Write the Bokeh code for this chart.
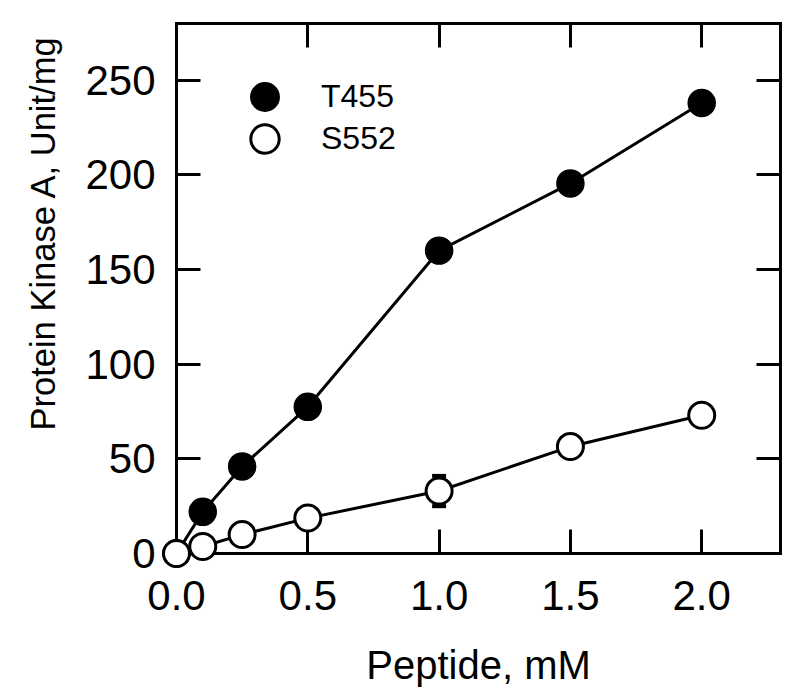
import math
from bokeh.plotting import figure
from bokeh.models import (Range1d, LinearAxis, FixedTicker, ColumnDataSource, Whisker,
                          TeeHead, Legend, LegendItem)
from bokeh.embed import file_html
from bokeh.resources import INLINE

# ---- data ----
peptide_mM = [0.0, 0.1, 0.25, 0.5, 1.0, 1.5, 2.0]
t455 = [0.0, 22, 46, 77.5, 160, 195.5, 238]
s552 = [0.0, 3.7, 10, 18.7, 33, 56.5, 73]
t455_err = [0, 0, 0, 0, 0, 0, 0]
s552_err = [0, 0, 0, 0, 8, 0, 0]
series_names = ["T455", "S552"]
x_ticks = [0.0, 0.5, 1.0, 1.5, 2.0]
x_tick_labels = ["0.0", "0.5", "1.0", "1.5", "2.0"]
y_ticks = [0, 50, 100, 150, 200, 250]
y_tick_labels = ["0", "50", "100", "150", "200", "250"]
x_title = "Peptide, mM"
y_title = "Protein Kinase A, Unit/mg"

FONT = "Liberation Sans"

p = figure(frame_width=604, frame_height=530,
           min_border_left=176, min_border_right=12, min_border_top=23, min_border_bottom=135,
           x_range=Range1d(0, 2.3), y_range=Range1d(0, 280),
           output_backend="svg", toolbar_location=None,
           x_axis_location=None, y_axis_location=None,
           title=y_title, title_location="left")
p.xgrid.visible = False
p.ygrid.visible = False
p.outline_line_color = None
p.background_fill_color = "white"
p.border_fill_color = "white"

# y-axis title (as a left title so it can sit above the frame centre like the reference)
p.title.text_font = FONT
p.title.text_font_size = "34.5px"
p.title.text_font_style = "normal"
p.title.text_color = "black"
p.title.align = "left"
p.title.offset = 123
p.title.standoff = 42


def style_axis(ax, labels=True):
    ax.axis_line_width = 3
    ax.axis_line_color = "black"
    ax.axis_line_cap = "square"
    ax.major_tick_line_width = 3
    ax.major_tick_line_color = "black"
    ax.major_tick_in = 24
    ax.major_tick_out = 0
    ax.minor_tick_line_color = None
    ax.major_label_text_font = FONT
    if labels:
        ax.major_label_text_color = "black"
        ax.major_label_text_font_size = "42px"
    else:
        ax.major_label_text_color = None
        ax.major_label_text_alpha = 0
        ax.major_label_text_font_size = "1px"
        ax.major_label_standoff = 0


xb = LinearAxis(ticker=FixedTicker(ticks=x_ticks),
                major_label_overrides={t: l for t, l in zip(x_ticks, x_tick_labels)})
style_axis(xb)
xb.major_label_standoff = 27
xb.axis_label = x_title
xb.axis_label_text_font = FONT
xb.axis_label_text_font_size = "40px"
xb.axis_label_text_font_style = "normal"
xb.axis_label_text_color = "black"
xb.axis_label_standoff = 30
p.add_layout(xb, "below")

yl = LinearAxis(ticker=FixedTicker(ticks=y_ticks),
                major_label_overrides={t: l for t, l in zip(y_ticks, y_tick_labels)})
style_axis(yl)
yl.major_label_standoff = 21
p.add_layout(yl, "left")

xt = LinearAxis(ticker=FixedTicker(ticks=x_ticks))
style_axis(xt, labels=False)
p.add_layout(xt, "above")

yr = LinearAxis(ticker=FixedTicker(ticks=y_ticks))
style_axis(yr, labels=False)
p.add_layout(yr, "right")

# error bars (only where present)
ex, eu, el = [], [], []
for xs, ys, es in ((peptide_mM, t455, t455_err), (peptide_mM, s552, s552_err)):
    for xv, yv, ev in zip(xs, ys, es):
        if ev > 0:
            ex.append(xv); eu.append(yv + ev); el.append(yv - ev)
err_src = ColumnDataSource(dict(x=ex, upper=eu, lower=el))
wh = Whisker(source=err_src, base="x", upper="upper", lower="lower", dimension="height",
             line_width=3, line_color="black", level="underlay",
             upper_head=TeeHead(size=14, line_width=4, line_color="black"),
             lower_head=TeeHead(size=14, line_width=4, line_color="black"))
p.add_layout(wh)

src_t = ColumnDataSource(dict(x=peptide_mM, y=t455))
src_s = ColumnDataSource(dict(x=peptide_mM, y=s552))

p.line("x", "y", source=src_t, line_width=3, line_color="black")
p.line("x", "y", source=src_s, line_width=3, line_color="black")
r_t = p.scatter("x", "y", source=src_t, size=27, marker="circle", level="annotation",
                fill_color="black", line_color="black", line_width=1.5)
r_s = p.scatter("x", "y", source=src_s, size=26, marker="circle", level="annotation",
                fill_color="white", line_color="black", line_width=3)

# legends (one per entry so the marker size can match)
for name, rend, vy in ((series_names[0], r_t, 421), (series_names[1], r_s, 379)):
    lg = Legend(items=[LegendItem(label=name, renderers=[rend])],
                location=(53, vy), glyph_width=71, glyph_height=71,
                label_standoff=21, label_text_font=FONT, label_text_font_size="32px",
                label_text_color="black", padding=0, margin=0, spacing=0,
                background_fill_alpha=0, border_line_alpha=0)
    p.add_layout(lg, "center")

open("out.html", "w").write(file_html(p, INLINE))
